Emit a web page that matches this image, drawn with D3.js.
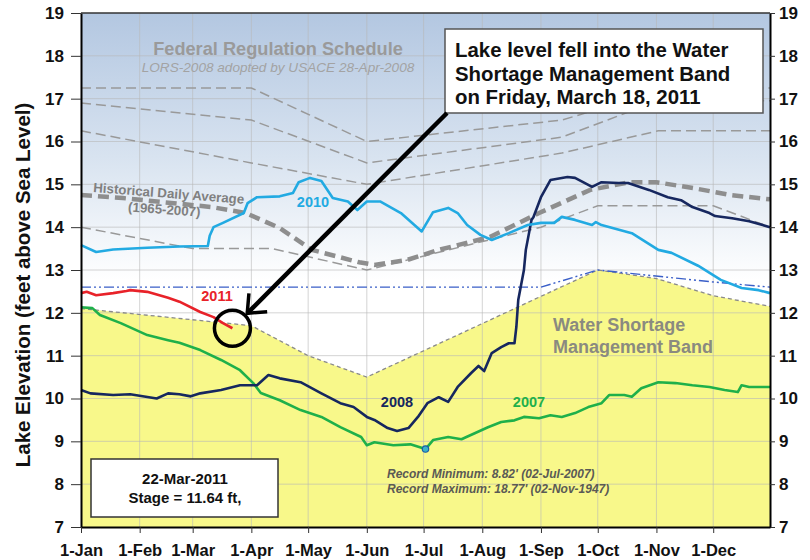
<!DOCTYPE html>
<html>
<head>
<meta charset="utf-8">
<script src="https://cdn.jsdelivr.net/npm/d3@7"></script>
<style>
  body { margin: 0; background: #fff; }
  text { font-family: "Liberation Sans", Arial, sans-serif; }
</style>
</head>
<body>
<div id="chart"></div>
<script>
// Tick labels
const monthLabels = ["1-Jan","1-Feb","1-Mar","1-Apr","1-May","1-Jun","1-Jul","1-Aug","1-Sep","1-Oct","1-Nov","1-Dec"]
const yTicks = [7,8,9,10,11,12,13,14,15,16,17,18,19]

// Federal regulation schedule (LORS-2008) lines, [MM-DD, ft]
const lorsTop = [["01-01",17.25],["04-01",17.25],["06-01",16.0],["09-12",16.5],["11-08",17.25],["12-31",17.25]]
const lorsUpper = [["01-01",16.9],["04-01",16.5],["06-01",15.5],["09-12",16.1],["11-02",16.95],["12-31",16.95]]
const lorsMiddle = [["01-01",16.25],["04-01",15.5],["06-01",15.0],["09-12",15.73],["11-02",16.25],["12-31",16.25]]
const lorsLow = [["01-01",14.0],["03-01",13.5],["04-12",13.5],["06-01",13.0],["09-01",14.0],["10-01",14.5],["12-01",14.5],["12-31",14.0]]

// Water shortage management band (upper edge) and dash-dot line
const shortageBand = [["01-01",12.1],["04-01",11.7],["05-01",11.0],["06-01",10.5],["10-01",13.0],["11-01",12.8],["12-01",12.4],["12-31",12.15]]
const dashDotLine = [["01-01",12.6],["09-01",12.6],["10-01",13.0],["12-01",12.72],["12-31",12.6]]

// Historical daily average (1965-2007)
const histAverage = [["01-01",14.75],["01-23",14.68],["03-11",14.47],["03-29",14.33],["04-16",13.98],["05-03",13.47],["05-28",13.18],["06-05",13.12],["06-22",13.23],["07-09",13.47],["08-05",13.77],["08-31",14.33],["09-27",14.87],["10-18",15.05],["11-01",15.05],["11-22",14.9],["12-10",14.75],["12-31",14.65]]

// Lake stage by year
const stage2010 = [["01-01",13.58],["01-09",13.42],["01-18",13.48],["02-05",13.52],["02-22",13.55],["03-09",13.56],["03-10",13.8],["03-12",14.0],["03-17",14.1],["03-28",14.33],["03-30",14.56],["04-04",14.7],["04-16",14.72],["04-23",14.8],["04-26",15.05],["05-02",15.15],["05-08",15.08],["05-14",14.68],["05-22",14.6],["05-27",14.4],["06-01",14.6],["06-08",14.6],["06-19",14.33],["06-30",13.9],["07-06",14.35],["07-14",14.45],["07-19",14.33],["07-24",14.05],["07-31",13.82],["08-06",13.7],["08-15",13.86],["08-25",14.05],["09-01",14.1],["09-08",14.1],["09-12",14.24],["09-19",14.17],["09-28",14.05],["09-30",14.12],["10-03",14.05],["10-19",13.86],["11-02",13.47],["11-09",13.4],["11-23",13.1],["12-05",12.77],["12-16",12.58],["12-25",12.53],["12-31",12.46]]
const stage2011 = [["01-01",12.46],["01-04",12.49],["01-09",12.41],["01-18",12.46],["01-25",12.51],["01-27",12.53],["02-05",12.49],["02-16",12.35],["02-22",12.26],["03-05",12.02],["03-12",11.9],["03-17",11.76],["03-22",11.64]]
const stage2007 = [["01-01",12.13],["01-07",12.11],["01-11",11.95],["01-22",11.76],["02-05",11.48],["02-16",11.36],["02-22",11.3],["03-05",11.13],["03-16",10.9],["03-26",10.66],["04-02",10.36],["04-06",10.13],["04-16",9.96],["04-27",9.73],["05-08",9.57],["05-18",9.33],["05-29",9.1],["06-01",8.91],["06-05",8.98],["06-15",8.91],["06-24",8.93],["07-02",8.82],["07-06",9.03],["07-14",9.1],["07-21",9.05],["07-28",9.19],["08-04",9.33],["08-11",9.45],["08-18",9.49],["08-23",9.57],["08-31",9.54],["09-06",9.61],["09-12",9.57],["09-19",9.66],["09-26",9.8],["10-03",9.89],["10-07",10.08],["10-15",10.08],["10-19",10.04],["10-24",10.24],["11-02",10.38],["11-11",10.36],["11-20",10.31],["11-29",10.27],["12-07",10.2],["12-14",10.15],["12-16",10.31],["12-20",10.27],["12-31",10.27]]
const stage2008 = [["01-01",10.2],["01-06",10.12],["01-18",10.08],["01-27",10.1],["02-10",10.0],["02-16",10.12],["02-22",10.1],["02-28",10.05],["03-05",10.12],["03-16",10.2],["03-26",10.31],["04-04",10.31],["04-10",10.55],["04-16",10.47],["04-27",10.38],["05-08",10.12],["05-18",9.89],["05-25",9.8],["06-01",9.57],["06-05",9.5],["06-12",9.31],["06-17",9.24],["06-23",9.31],["06-28",9.57],["07-03",9.89],["07-09",10.03],["07-14",9.92],["07-19",10.27],["07-26",10.59],["07-30",10.76],["08-02",10.64],["08-06",11.06],["08-11",11.2],["08-15",11.29],["08-18",11.29],["08-19",11.67],["08-20",12.3],["08-23",13.0],["08-24",13.47],["08-27",14.17],["08-28",14.23],["09-01",14.7],["09-06",15.1],["09-15",15.17],["09-19",15.15],["09-28",14.94],["10-03",15.05],["10-12",15.03],["10-17",15.03],["10-28",14.87],["11-07",14.7],["11-14",14.63],["11-20",14.47],["11-29",14.33],["12-02",14.26],["12-11",14.21],["12-20",14.14],["12-31",14.0]]

// Record minimum and current stage
const recordMin = ["07-02", 8.82]
const currentStage = ["03-22", 11.64]

const width = 810, height = 560
const margin = {top: 13, right: 40, bottom: 33, left: 81}

const parse = s => d3.timeParse("%Y-%m-%d")("2011-" + s)
const toPoints = arr => arr.map(d => ({date: parse(d[0]), value: d[1]}))

const x = d3.scaleTime()
    .domain([parse("01-01"), parse("12-31")])
    .range([margin.left, width - margin.right])

const y = d3.scaleLinear()
    .domain([7, 19])
    .range([height - margin.bottom, margin.top])

const line = d3.line().x(d => x(d.date)).y(d => y(d.value))

const svg = d3.select("#chart").append("svg")
    .attr("width", width)
    .attr("height", height)

const defs = svg.append("defs")
const grad = defs.append("linearGradient")
    .attr("id", "sky").attr("x1", 0).attr("y1", 0).attr("x2", 0).attr("y2", 1)
grad.append("stop").attr("offset", "0%").attr("stop-color", "#b3c7e1")
grad.append("stop").attr("offset", "28%").attr("stop-color", "#d8e3f0")
grad.append("stop").attr("offset", "52%").attr("stop-color", "#ffffff")

// Plot background
svg.append("rect")
    .attr("x", margin.left).attr("y", margin.top)
    .attr("width", width - margin.left - margin.right)
    .attr("height", height - margin.top - margin.bottom)
    .attr("fill", "url(#sky)")

// Yellow water shortage band
const area = d3.area().x(d => x(d.date)).y0(y(7)).y1(d => y(d.value))
svg.append("path")
    .datum(toPoints(shortageBand))
    .attr("fill", "#f8f88a")
    .attr("d", area)

// Grid
const monthDates = d3.timeMonth.range(parse("01-01"), parse("12-31"))
svg.append("g").selectAll("line")
    .data(monthDates.slice(1))
    .join("line")
    .attr("x1", d => x(d)).attr("x2", d => x(d))
    .attr("y1", y(7)).attr("y2", y(19))
    .attr("stroke", "#b8b8b8").attr("stroke-opacity", 0.6)
svg.append("g").selectAll("line")
    .data(yTicks.slice(1, -1))
    .join("line")
    .attr("x1", x.range()[0]).attr("x2", x.range()[1])
    .attr("y1", d => y(d)).attr("y2", d => y(d))
    .attr("stroke", "#b8b8b8").attr("stroke-opacity", 0.6)

// Schedule lines
;[lorsTop, lorsUpper, lorsMiddle, lorsLow].forEach(s => {
    svg.append("path")
        .datum(toPoints(s))
        .attr("fill", "none")
        .attr("stroke", "#999")
        .attr("stroke-width", 1.5)
        .attr("stroke-dasharray", "10,5")
        .attr("d", line)
})

svg.append("path")
    .datum(toPoints(shortageBand))
    .attr("fill", "none")
    .attr("stroke", "#8a8a8a")
    .attr("stroke-width", 1.3)
    .attr("stroke-dasharray", "4,3")
    .attr("d", line)

svg.append("path")
    .datum(toPoints(dashDotLine))
    .attr("fill", "none")
    .attr("stroke", "#3a5fc8")
    .attr("stroke-width", 1.4)
    .attr("stroke-dasharray", "10,3,2,3,2,3")
    .attr("d", line)

svg.append("path")
    .datum(toPoints(histAverage))
    .attr("fill", "none")
    .attr("stroke", "#8e8e8e")
    .attr("stroke-width", 4.5)
    .attr("stroke-dasharray", "11,6")
    .attr("d", line)

// Year series
const yearSeries = [
    {data: stage2007, color: "#1fb04a"},
    {data: stage2008, color: "#16275f"},
    {data: stage2010, color: "#22aae2"},
    {data: stage2011, color: "#e82229"}
]
yearSeries.forEach(s => {
    svg.append("path")
        .datum(toPoints(s.data))
        .attr("fill", "none")
        .attr("stroke", s.color)
        .attr("stroke-width", 2.6)
        .attr("stroke-linejoin", "round")
        .attr("d", line)
})

// Record minimum marker
svg.append("circle")
    .attr("cx", x(parse(recordMin[0]))).attr("cy", y(recordMin[1]))
    .attr("r", 3.2)
    .attr("fill", "#3bb3c8").attr("stroke", "#1b5ea8").attr("stroke-width", 1.2)

// Axes
const yLeft = svg.append("g")
    .attr("transform", `translate(${margin.left},0)`)
    .call(d3.axisLeft(y).tickValues(yTicks).tickSize(10).tickPadding(7).tickSizeOuter(0))
const yRight = svg.append("g")
    .attr("transform", `translate(${width - margin.right},0)`)
    .call(d3.axisRight(y).tickValues(yTicks).tickSize(5).tickPadding(4).tickSizeOuter(0))
const xAxis = svg.append("g")
    .attr("transform", `translate(0,${height - margin.bottom})`)
    .call(d3.axisBottom(x).tickValues(monthDates).tickSize(6).tickSizeOuter(0)
        .tickFormat((d, i) => monthLabels[i]))

;[yLeft, yRight, xAxis].forEach(g => {
    g.select(".domain").attr("stroke", "#000").attr("stroke-width", 2)
    g.selectAll(".tick line").attr("stroke", "#333")
    g.selectAll("text")
        .attr("font-family", "Liberation Sans, Arial, sans-serif")
        .attr("font-weight", "bold")
        .attr("fill", "#111")
})
yLeft.selectAll("text").attr("font-size", 17)
yRight.selectAll("text").attr("font-size", 17)
xAxis.selectAll("text").attr("font-size", 16.5).attr("y", 17)

// top border
svg.append("line")
    .attr("x1", x.range()[0]).attr("x2", x.range()[1])
    .attr("y1", y(19)).attr("y2", y(19))
    .attr("stroke", "#333").attr("stroke-width", 1.5)

// Axis title
svg.append("text")
    .attr("transform", "translate(30,285) rotate(-90)")
    .attr("text-anchor", "middle")
    .attr("font-size", 20.5)
    .attr("font-weight", "bold")
    .attr("fill", "#111")
    .text("Lake Elevation (feet above Sea Level)")

// Labels
svg.append("text")
    .attr("x", 278).attr("y", 55)
    .attr("text-anchor", "middle")
    .attr("font-size", 18.2)
    .attr("font-weight", "bold")
    .attr("fill", "#9a9a9a")
    .text("Federal Regulation Schedule")
svg.append("text")
    .attr("x", 278).attr("y", 72)
    .attr("text-anchor", "middle")
    .attr("font-size", 13.6)
    .attr("font-style", "italic")
    .attr("fill", "#a3a3a3")
    .text("LORS-2008 adopted by USACE 28-Apr-2008")

svg.append("text")
    .attr("transform", "translate(93,192) rotate(4.5)")
    .attr("font-size", 13.3)
    .attr("font-weight", "bold")
    .attr("fill", "#808080")
    .text("Historical Daily Average")
svg.append("text")
    .attr("transform", "translate(164,214) rotate(4)")
    .attr("text-anchor", "middle")
    .attr("font-size", 13.3)
    .attr("font-weight", "bold")
    .attr("fill", "#808080")
    .text("(1965-2007)")

const seriesLabels = [
    {text: "2010", x: 313, y: 207, color: "#22aae2"},
    {text: "2011", x: 217, y: 301, color: "#e82229"},
    {text: "2008", x: 397, y: 407, color: "#16275f"},
    {text: "2007", x: 529, y: 407, color: "#1fb04a"}
]
svg.append("g").selectAll("text")
    .data(seriesLabels)
    .join("text")
    .attr("x", d => d.x).attr("y", d => d.y)
    .attr("text-anchor", "middle")
    .attr("font-size", 14.5)
    .attr("font-weight", "bold")
    .attr("fill", d => d.color)
    .text(d => d.text)

svg.append("g").selectAll("text")
    .data(["Water Shortage", "Management Band"])
    .join("text")
    .attr("x", 553).attr("y", (d, i) => 331 + i * 22)
    .attr("font-size", 18)
    .attr("font-weight", "bold")
    .attr("fill", "#8a8a80")
    .text(d => d)

svg.append("g").selectAll("text")
    .data(["Record Minimum: 8.82' (02-Jul-2007)", "Record Maximum: 18.77' (02-Nov-1947)"])
    .join("text")
    .attr("x", 387).attr("y", (d, i) => 478 + i * 15)
    .attr("font-size", 12)
    .attr("font-weight", "bold")
    .attr("font-style", "italic")
    .attr("fill", "#5a5a55")
    .text(d => d)

// Stage box
svg.append("rect")
    .attr("x", 91).attr("y", 459).attr("width", 187).attr("height", 58)
    .attr("fill", "#fff").attr("stroke", "#333").attr("stroke-width", 1.5)
svg.append("g").selectAll("text")
    .data(["22-Mar-2011", "Stage = 11.64 ft,"])
    .join("text")
    .attr("x", 185).attr("y", (d, i) => 484 + i * 19)
    .attr("text-anchor", "middle")
    .attr("font-size", 15)
    .attr("font-weight", "bold")
    .attr("fill", "#111")
    .text(d => d)

// Annotation box
const box = {x: 445, y: 29, w: 318, h: 84}
svg.append("rect")
    .attr("x", box.x).attr("y", box.y).attr("width", box.w).attr("height", box.h)
    .attr("fill", "#fff").attr("stroke", "#555").attr("stroke-width", 1.5)
svg.append("g").selectAll("text")
    .data(["Lake level fell into the Water", "Shortage Management Band", "on Friday, March 18, 2011"])
    .join("text")
    .attr("x", box.x + 10).attr("y", (d, i) => 57 + i * 23.5)
    .attr("font-size", 20.4)
    .attr("font-weight", "bold")
    .attr("fill", "#111")
    .text(d => d)

// Circle and arrow pointing to the current stage
const cx = x(parse(currentStage[0])), cy = y(currentStage[1])
svg.append("circle")
    .attr("cx", cx).attr("cy", cy).attr("r", 18)
    .attr("fill", "none").attr("stroke", "#000").attr("stroke-width", 3.5)

const start = [box.x + 2, box.y + box.h]
const dx = start[0] - cx, dy = start[1] - cy
const len = Math.hypot(dx, dy)
const ux = dx / len, uy = dy / len
const tip = [cx + ux * 21, cy + uy * 21]
svg.append("line")
    .attr("x1", start[0]).attr("y1", start[1])
    .attr("x2", tip[0]).attr("y2", tip[1])
    .attr("stroke", "#000").attr("stroke-width", 4.5)
const ang = Math.atan2(uy, ux)
const wing = a => [tip[0] + 20 * Math.cos(ang + a), tip[1] + 20 * Math.sin(ang + a)]
const w1 = wing(0.7), w2 = wing(-0.7)
svg.append("path")
    .attr("d", `M${w1[0]},${w1[1]}L${tip[0]},${tip[1]}L${w2[0]},${w2[1]}`)
    .attr("fill", "none").attr("stroke", "#000").attr("stroke-width", 3.5)
    .attr("stroke-linejoin", "miter")
</script>
</body>
</html>
